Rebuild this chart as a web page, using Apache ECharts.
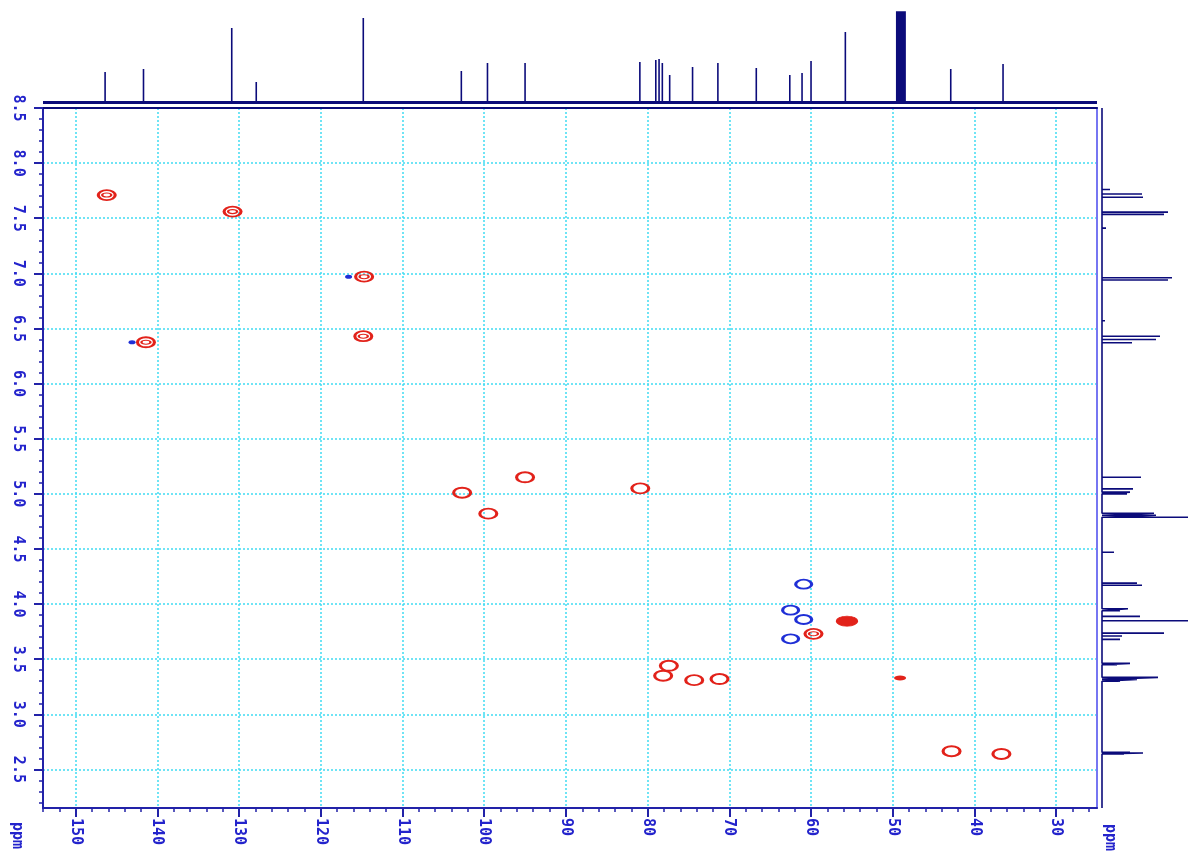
<!DOCTYPE html>
<html><head><meta charset="utf-8">
<script src="https://cdn.jsdelivr.net/npm/echarts@6/dist/echarts.min.js"></script>
<style>html,body{margin:0;padding:0;background:#fff}#c{width:1188px;height:859px}</style>
</head><body><div id="c"></div>
<script>
// ---- tick labels ----
const carbonTicks = [30, 40, 50, 60, 70, 80, 90, 100, 110, 120, 130, 140, 150];
const carbonTickLabels = ['30','40','50','60','70','80','90','100','110','120','130','140','150'];
const protonTicks = [2.5, 3.0, 3.5, 4.0, 4.5, 5.0, 5.5, 6.0, 6.5, 7.0, 7.5, 8.0, 8.5];
const protonTickLabels = ['2.5','3.0','3.5','4.0','4.5','5.0','5.5','6.0','6.5','7.0','7.5','8.0','8.5'];

// ---- HSQC cross peaks (13C ppm, 1H ppm, contour level) ----
const redC  = [146.2, 130.8, 114.7, 114.8, 141.4, 95.0, 102.7, 80.9, 99.5, 55.6, 59.7, 77.4, 78.1, 74.3, 71.2, 49.1, 42.8, 36.7];
const redH  = [7.71, 7.56, 6.97, 6.43, 6.375, 5.15, 5.01, 5.05, 4.82, 3.845, 3.73, 3.44, 3.35, 3.31, 3.32, 3.33, 2.665, 2.64];
const redLevel = [2, 2, 2, 2, 2, 1, 1, 1, 1, 3, 2, 1, 1, 1, 1, 0, 1, 1];
const blueC = [116.6, 143.1, 60.9, 62.5, 60.9, 62.5];
const blueH = [6.97, 6.375, 4.18, 3.945, 3.86, 3.685];
const blueLevel = [0, 0, 1, 1, 1, 1];

// ---- 1D 13C projection (ppm, height) ----
const c13Shift  = [146.4, 141.7, 130.9, 127.9, 114.8, 102.8, 99.6, 95.0, 80.95, 79.0, 78.6, 78.2, 77.3, 74.5, 71.4, 66.7, 62.6, 61.1, 60.0, 55.8, 48.49, 48.66, 48.83, 49.0, 49.17, 49.34, 49.51, 42.9, 36.5];
const c13Height = [31, 34, 75, 21, 85, 32, 40, 40, 41, 43, 44, 40, 28, 36, 40, 35, 28, 30, 42, 71, 120, 120, 120, 120, 120, 120, 120, 34, 39];

// ---- 1D 1H projection (ppm, height) ----
const h1Shift  = [7.76, 7.72, 7.69, 7.555, 7.535, 7.41, 6.96, 6.94, 6.57, 6.43, 6.40, 6.37, 5.15, 5.045, 5.015, 5.00, 4.824, 4.806, 4.788, 4.47, 4.19, 4.17, 3.957, 3.94, 3.888, 3.848, 3.736, 3.71, 3.68, 3.462, 3.45, 3.335, 3.317, 3.30, 2.655, 2.649, 2.64];
const h1Height = [8, 40, 41, 66, 62, 4, 70, 66, 3, 58, 54, 30, 39, 31, 28, 25, 52, 54, 120, 12, 35, 40, 26, 18, 38, 120, 62, 20, 18, 28, 15, 56, 35, 18, 28, 41, 22];

// ---- helpers ----
const X_MIN = 25, X_MAX = 154, Y_MIN = 2.15, Y_MAX = 8.5;
function sticks(shifts, heights, lo, hi, swap) {
  const idx = shifts.map((_, i) => i).sort((a, b) => shifts[a] - shifts[b]);
  const pts = [[lo, 0]];
  idx.forEach(i => { pts.push([shifts[i], 0], [shifts[i], heights[i]], [shifts[i], 0]); });
  pts.push([hi, 0]);
  return swap ? pts.map(p => [p[1], p[0]]) : pts;
}
const minorC = []; for (let v = 26; v <= 154; v += 2) if (v % 10 !== 0) minorC.push(v);
const minorH = []; for (let k = 22; k <= 85; k++) if (k % 5 !== 0) minorH.push(k / 10);

const RED = '#e2221a', BLUE = '#1f2fd6', NAVY = '#0b0b7a', AXIS = '#2222a8', LBL = '#2424cc', GRIDC = '#40dcf2';
const labelFont = { color: LBL, fontSize: 15, fontWeight: 'bold', fontFamily: 'DejaVu Sans Mono' };

const chart = echarts.init(document.getElementById('c'), null, { renderer: 'canvas' });

function sel(arrC, arrH, arrL, pred) {
  const out = [];
  arrC.forEach((c, i) => { if (pred(arrL[i])) out.push([c, arrH[i]]); });
  return out;
}

chart.setOption({
  animation: false,
  backgroundColor: '#ffffff',
  grid: [
    { left: 43, right: 91, top: 108, bottom: 51, outerBoundsMode: 'none', containLabel: false },
    { left: 43, right: 91, top: 12, bottom: 756, outerBoundsMode: 'none', containLabel: false },
    { left: 1102, right: 0, top: 108, bottom: 51, outerBoundsMode: 'none', containLabel: false }
  ],
  xAxis: [
    { type: 'value', gridIndex: 0, position: 'bottom', min: X_MIN, max: X_MAX, inverse: true,
      axisLine: { onZero: false, lineStyle: { color: AXIS, width: 2 } },
      axisTick: { customValues: carbonTicks, length: 9, lineStyle: { color: AXIS, width: 2 } },
      axisLabel: Object.assign({ customValues: carbonTicks, rotate: -90, margin: 10,
        formatter: v => carbonTickLabels[carbonTicks.indexOf(v)] || String(v) }, labelFont),
      splitLine: { show: true, lineStyle: { color: GRIDC, width: 1.5, type: [2, 2] } } },
    { type: 'value', gridIndex: 0, position: 'bottom', min: X_MIN, max: X_MAX, inverse: true,
      axisLine: { show: false, onZero: false },
      axisTick: { customValues: minorC, length: 4, lineStyle: { color: AXIS, width: 1.5 } },
      axisLabel: { show: false }, splitLine: { show: false } },
    { type: 'value', gridIndex: 0, position: 'top', min: X_MIN, max: X_MAX, inverse: true,
      axisLine: { onZero: false, lineStyle: { color: NAVY, width: 2 } },
      axisTick: { show: false }, axisLabel: { show: false }, splitLine: { show: false } },
    { type: 'value', gridIndex: 1, min: X_MIN, max: X_MAX, inverse: true, show: false },
    { type: 'value', gridIndex: 2, min: 0, max: 86, show: false }
  ],
  yAxis: [
    { type: 'value', gridIndex: 0, position: 'left', min: Y_MIN, max: Y_MAX,
      axisLine: { onZero: false, lineStyle: { color: AXIS, width: 2 } },
      axisTick: { customValues: protonTicks, length: 9, lineStyle: { color: AXIS, width: 2 } },
      axisLabel: Object.assign({ customValues: protonTicks, rotate: -90, margin: 18,
        formatter: v => protonTickLabels[protonTicks.indexOf(v)] || v.toFixed(1) }, labelFont),
      splitLine: { show: true, lineStyle: { color: GRIDC, width: 1.5, type: [2, 2] } } },
    { type: 'value', gridIndex: 0, position: 'left', min: Y_MIN, max: Y_MAX,
      axisLine: { show: false, onZero: false },
      axisTick: { customValues: minorH, length: 4, lineStyle: { color: AXIS, width: 1.5 } },
      axisLabel: { show: false }, splitLine: { show: false } },
    { type: 'value', gridIndex: 0, position: 'right', min: Y_MIN, max: Y_MAX,
      axisLine: { onZero: false, lineStyle: { color: '#7676f2', width: 2 } },
      axisTick: { show: false }, axisLabel: { show: false }, splitLine: { show: false } },
    { type: 'value', gridIndex: 1, min: 0, max: 91, show: false },
    { type: 'value', gridIndex: 2, min: Y_MIN, max: Y_MAX, show: false }
  ],
  graphic: [
    { type: 'text', left: 9, top: 822, rotation: -Math.PI / 2, originX: 0, originY: 0,
      style: { text: 'ppm', fill: LBL, fontSize: 15, fontWeight: 'bold', fontFamily: 'DejaVu Sans Mono' } },
    { type: 'text', left: 1102, top: 824, rotation: -Math.PI / 2, originX: 0, originY: 0,
      style: { text: 'ppm', fill: LBL, fontSize: 15, fontWeight: 'bold', fontFamily: 'DejaVu Sans Mono' } }
  ],
  series: [
    // top 13C projection
    { type: 'line', xAxisIndex: 3, yAxisIndex: 3, showSymbol: false, clip: true, silent: true,
      lineStyle: { color: NAVY, width: 1.6 }, data: sticks(c13Shift, c13Height, X_MIN, X_MAX, false) },
    { type: 'line', xAxisIndex: 3, yAxisIndex: 3, showSymbol: false, silent: true,
      lineStyle: { color: NAVY, width: 3 }, data: [[X_MIN, 0.5], [X_MAX, 0.5]] },
    // right 1H projection
    { type: 'line', xAxisIndex: 4, yAxisIndex: 4, showSymbol: false, clip: true, silent: true,
      lineStyle: { color: NAVY, width: 1.6 }, data: sticks(h1Shift, h1Height, Y_MIN, Y_MAX, true) },
    // HSQC red (positive) contours
    { type: 'scatter', xAxisIndex: 0, yAxisIndex: 0, symbol: 'circle', symbolSize: [17, 10], silent: true,
      itemStyle: { color: 'rgba(0,0,0,0)', borderColor: RED, borderWidth: 2.4, opacity: 1 },
      data: sel(redC, redH, redLevel, l => l === 1 || l === 2) },
    { type: 'scatter', xAxisIndex: 0, yAxisIndex: 0, symbol: 'circle', symbolSize: [9, 4], silent: true,
      itemStyle: { color: 'rgba(0,0,0,0)', borderColor: RED, borderWidth: 1.6, opacity: 1 },
      data: sel(redC, redH, redLevel, l => l === 2) },
    { type: 'scatter', xAxisIndex: 0, yAxisIndex: 0, symbol: 'circle', symbolSize: [21, 10], silent: true,
      itemStyle: { color: RED, borderColor: RED, borderWidth: 1, opacity: 1 },
      data: sel(redC, redH, redLevel, l => l === 3) },
    { type: 'scatter', xAxisIndex: 0, yAxisIndex: 0, symbol: 'circle', symbolSize: [12, 5], silent: true,
      itemStyle: { color: RED, opacity: 1 },
      data: sel(redC, redH, redLevel, l => l === 0) },
    // HSQC blue (negative) contours
    { type: 'scatter', xAxisIndex: 0, yAxisIndex: 0, symbol: 'circle', symbolSize: [16, 9], silent: true,
      itemStyle: { color: 'rgba(0,0,0,0)', borderColor: BLUE, borderWidth: 2.4, opacity: 1 },
      data: sel(blueC, blueH, blueLevel, l => l === 1) },
    { type: 'scatter', xAxisIndex: 0, yAxisIndex: 0, symbol: 'circle', symbolSize: [7, 4], silent: true,
      itemStyle: { color: BLUE, opacity: 1 },
      data: sel(blueC, blueH, blueLevel, l => l === 0) }
  ]
});
</script>
</body></html>
